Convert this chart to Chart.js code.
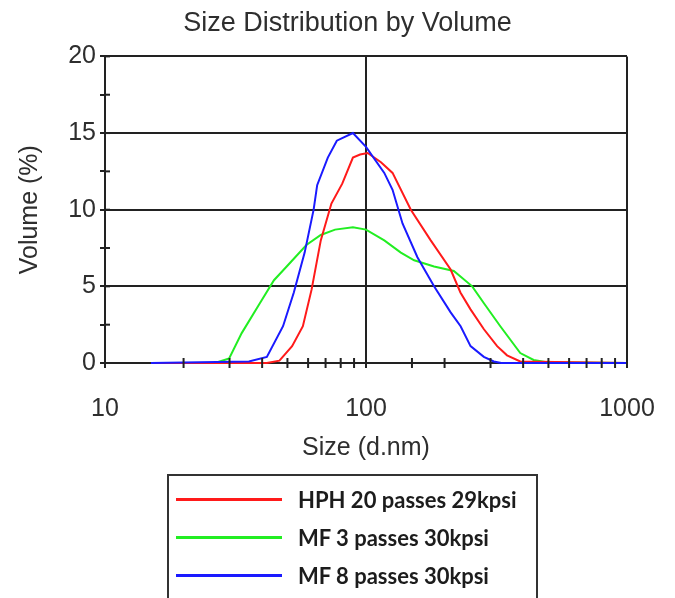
<!DOCTYPE html>
<html>
<head>
<meta charset="utf-8">
<script src="https://cdn.jsdelivr.net/npm/chart.js@4/dist/chart.umd.min.js"></script>
<style>
	html, body { margin: 0; padding: 0; background: #fff; overflow: hidden; }
	#wrap { position: relative; width: 675px; height: 598px; }
	#legend {
		position: absolute; left: 167px; top: 474px; width: 371px; height: 150px;
		border: 2px solid #333; box-sizing: border-box;
		font-family: Lato, "Open Sans", sans-serif; font-weight: bold; font-size: 22px; color: #1c1c1c;
	}
	.item { position: absolute; left: 7px; height: 30px; display: flex; align-items: center; }
	.swatch { width: 106px; height: 3px; margin-right: 16px; }
</style>
</head>
<body>
<div id="wrap">
	<canvas id="myChart" width="675" height="598"></canvas>
	<div id="legend"></div>
</div>
<script>
// series names
const labels = ["HPH 20 passes 29kpsi", "MF 3 passes 30kpsi", "MF 8 passes 30kpsi"];
const colors = ["#ff1a1a", "#22ee22", "#1a1aff"];

// HPH 20 passes - size (d.nm) and volume (%)
const hphSize = [15, 41.7, 46.6, 52.1, 57.3, 61.9, 67.1, 73.7, 81.1, 89.1, 94.9, 101.5, 114.1, 126.4, 148.5, 177, 211, 230, 251.5, 283, 318, 347, 390, 1000];
const hphVol = [0, 0, 0.15, 1.1, 2.4, 4.8, 8.0, 10.4, 11.7, 13.4, 13.6, 13.7, 13.1, 12.4, 10.0, 8.0, 6.1, 4.6, 3.5, 2.2, 1.1, 0.5, 0.1, 0];

// MF 3 passes
const mf3Size = [26.4, 29.9, 33.4, 39.2, 44.4, 47.3, 52.9, 59.1, 67.1, 76.1, 89.1, 100, 117.5, 136, 152.9, 182.3, 217, 255.2, 283, 327, 390, 438.7, 493, 1000];
const mf3Vol = [0, 0.3, 1.95, 3.9, 5.4, 5.9, 6.8, 7.7, 8.35, 8.7, 8.85, 8.7, 8.0, 7.2, 6.7, 6.3, 6.0, 5.0, 3.9, 2.4, 0.65, 0.2, 0.05, 0];

// MF 8 passes
const mf8Size = [15, 35.6, 41.7, 48.1, 52.9, 58.2, 63.0, 65.0, 71.4, 77.3, 89.1, 100, 117.5, 126.4, 138, 157.4, 182.3, 211, 230.4, 251.5, 282.8, 308.7, 330, 1000];
const mf8Vol = [0, 0.1, 0.4, 2.4, 4.6, 7.2, 10.0, 11.6, 13.4, 14.5, 15.0, 14.1, 12.4, 11.3, 9.1, 6.9, 5.0, 3.3, 2.4, 1.1, 0.4, 0.1, 0, 0];

// tick labels shown
const xLabels = [10, 100, 1000];
const yLabels = [0, 5, 10, 15, 20];

const dark = "#222";
const textColor = "#2e2e2e";

function pts(xs, ys) {
	return xs.map((x, i) => ({ x: x, y: ys[i] }));
}

// tick marks crossing the axis lines
const crossTicks = {
	id: "crossTicks",
	afterDatasetsDraw(chart) {
		const ctx = chart.ctx;
		const area = chart.chartArea;
		ctx.save();
		ctx.strokeStyle = dark;
		ctx.lineWidth = 2;
		chart.scales.x.ticks.forEach((t) => {
			const px = chart.scales.x.getPixelForValue(t.value);
			ctx.beginPath();
			ctx.moveTo(px, area.bottom - 5);
			ctx.lineTo(px, area.bottom + 5);
			ctx.stroke();
		});
		chart.scales.y.ticks.forEach((t) => {
			const py = chart.scales.y.getPixelForValue(t.value);
			ctx.beginPath();
			ctx.moveTo(area.left, py);
			ctx.lineTo(area.left + 5, py);
			ctx.stroke();
		});
		ctx.restore();
	},
};

const sizes = [hphSize, mf3Size, mf8Size];
const vols = [hphVol, mf3Vol, mf8Vol];
const drawOrder = [1, 2, 0];

let chart = new Chart(document.getElementById("myChart"), {
	type: "line",
	data: {
		datasets: labels.map((l, i) => ({
			label: l,
			data: pts(sizes[i], vols[i]),
			borderColor: colors[i],
			backgroundColor: colors[i],
			borderWidth: 2,
			pointRadius: 0,
			tension: 0,
			clip: 4,
			order: drawOrder[i],
		})),
	},
	options: {
		responsive: false,
		animation: false,
		layout: {
			padding: { left: 20, right: 0, top: 0, bottom: 135 },
		},
		scales: {
			x: {
				type: "logarithmic",
				min: 10,
				max: 1000,
				afterFit: (s) => { s.height = 100; },
				border: { display: true, color: dark, width: 2 },
				grid: {
					color: (c) => (c.tick && (c.tick.value === 100 || c.tick.value === 1000) ? dark : "transparent"),
					tickColor: "transparent",
					tickLength: 17,
					lineWidth: 2,
				},
				ticks: {
					autoSkip: false,
					maxRotation: 0,
					padding: 14,
					color: textColor,
					font: { family: "Liberation Sans", size: 25 },
					callback: (v) => (xLabels.includes(v) ? String(v) : ""),
				},
				title: {
					display: true,
					text: "Size (d.nm)",
					color: textColor,
					font: { family: "Liberation Sans", size: 25 },
					padding: { top: 0, bottom: 0 },
				},
			},
			y: {
				min: 0,
				max: 20,
				afterFit: (s) => { s.width = 85; },
				border: { display: true, color: dark, width: 2 },
				grid: {
					color: (c) => (c.tick && c.tick.value % 5 === 0 ? dark : "transparent"),
					tickColor: dark,
					tickLength: 5,
					lineWidth: 2,
				},
				ticks: {
					stepSize: 2.5,
					autoSkip: false,
					padding: 4,
					color: textColor,
					font: { family: "Liberation Sans", size: 25 },
					callback: (v) => (yLabels.includes(v) ? String(v) : ""),
				},
				title: {
					display: true,
					text: "Volume (%)",
					color: textColor,
					font: { family: "Liberation Sans", size: 25 },
					padding: { top: -5, bottom: 0 },
				},
			},
			// empty right-hand strip so the plot ends where the reference does
			yRight: {
				position: "right",
				min: 0,
				max: 20,
				afterFit: (s) => { s.width = 48; },
				border: { display: false },
				grid: { display: false, drawOnChartArea: false },
				ticks: { display: false },
			},
		},
		plugins: {
			title: {
				display: true,
				text: "Size Distribution by Volume",
				color: textColor,
				font: { family: "Liberation Sans", size: 27, weight: "normal" },
				padding: { top: 7, bottom: 17 },
			},
			legend: { display: false },
			tooltip: { enabled: false },
		},
	},
	plugins: [crossTicks],
});

// legend box below the chart
const legendBox = document.getElementById("legend");
labels.forEach((l, i) => {
	const item = document.createElement("div");
	item.className = "item";
	item.style.top = (8 + i * 38) + "px";
	const sw = document.createElement("div");
	sw.className = "swatch";
	sw.style.background = colors[i];
	const tx = document.createElement("span");
	tx.textContent = l;
	item.appendChild(sw);
	item.appendChild(tx);
	legendBox.appendChild(item);
});
</script>
</body>
</html>
